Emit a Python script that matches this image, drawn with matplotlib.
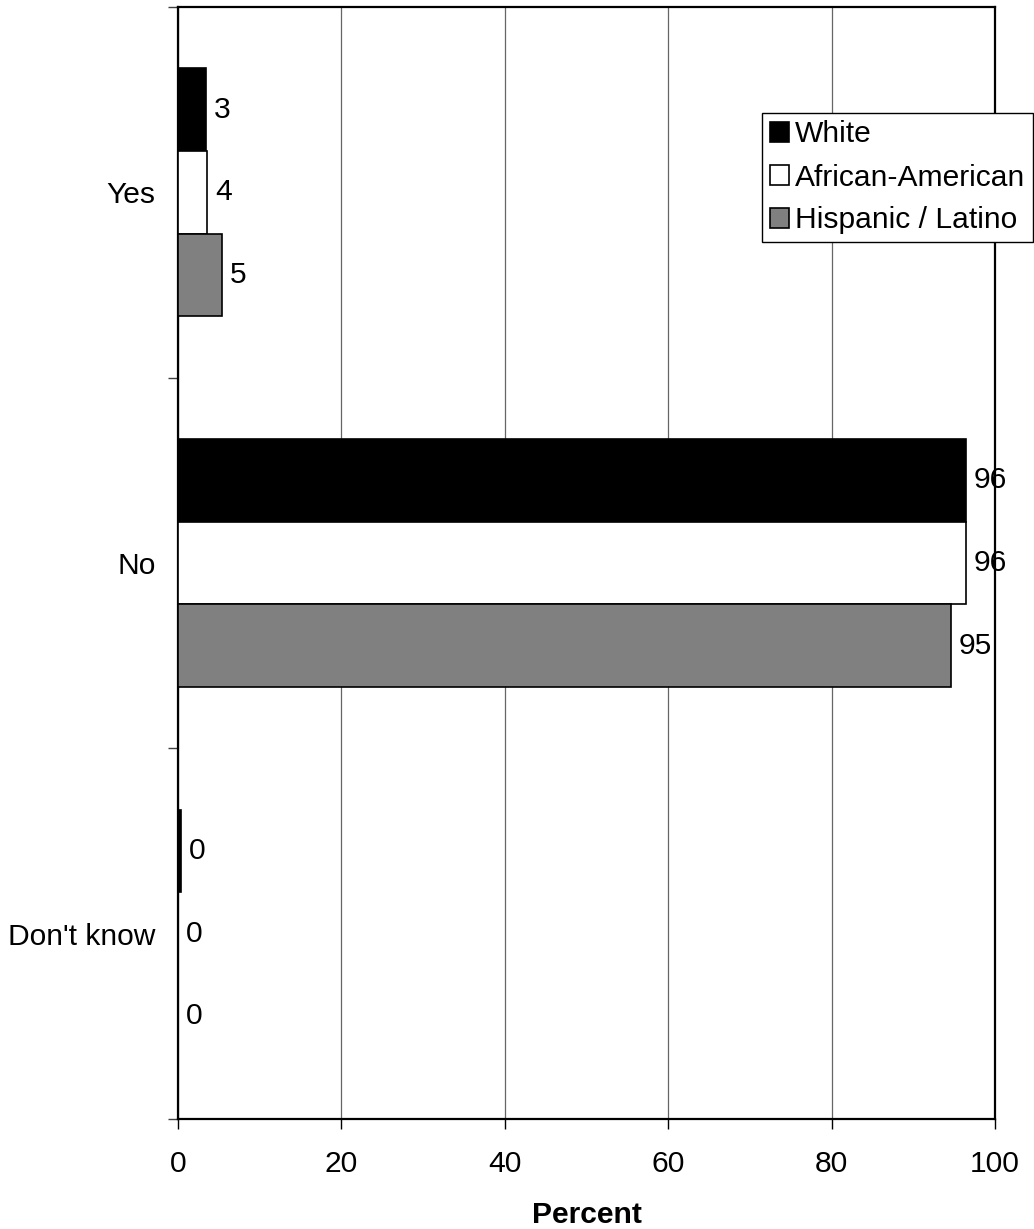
import numpy as np
import matplotlib
matplotlib.use("Agg")
import matplotlib.pyplot as plt

plt.rcParams['font.family'] = ['Liberation Sans', 'DejaVu Sans']

categories = ["Yes", "No", "Don't know"]
groups = ["White", "African-American", "Hispanic / Latino"]
white = [3.4, 96.4, 0.4]
african_american = [3.6, 96.4, 0.0]
hispanic = [5.4, 94.6, 0.0]
x_ticks = [0, 20, 40, 60, 80, 100]

series = [white, african_american, hispanic]
colors = ["#000000", "#ffffff", "#808080"]
fs = 21.6

W, H = 1034, 1229
fig = plt.figure(figsize=(W / 100, H / 100), dpi=100)
ax = fig.add_axes([178 / W, 1 - 1119 / H, (995 - 178) / W, (1119 - 7) / H])

y = np.arange(len(categories))
bar_h = 0.223
for i, (vals, name, col) in enumerate(zip(series, groups, colors)):
    pos = y + (i - 1) * bar_h
    bars = ax.barh(pos, vals, height=bar_h, color=col, edgecolor="black",
                   linewidth=1.2, label=name, zorder=3)
    for b, v in zip(bars, vals):
        ax.annotate(f"{v:.0f}", (b.get_width(), b.get_y() + b.get_height() / 2),
                    xytext=(8, 0), textcoords="offset pixels",
                    ha="left", va="center", fontsize=fs, zorder=5)

ax.set_xlim(0, 100)
ax.set_ylim(2.5, -0.5)
ax.set_xticks(x_ticks)
ax.set_yticks(y)
ax.set_yticklabels(categories)
ax.set_yticks([-0.5, 0.5, 1.5, 2.5], minor=True)
ax.tick_params(axis="y", which="major", length=0, pad=16, labelsize=fs)
ax.tick_params(axis="y", which="minor", length=7, width=1, color="#404040")
ax.tick_params(axis="x", which="major", length=7, width=1, pad=15, labelsize=fs,
               direction="out")
ax.xaxis.grid(True, color="#666666", linewidth=0.9, zorder=0)
ax.set_axisbelow(True)

for side in ["left", "bottom", "top", "right"]:
    ax.spines[side].set_linewidth(1.6)
    ax.spines[side].set_color("black")

ax.set_xlabel("Percent", fontsize=fs, fontweight="bold", labelpad=17)

leg = ax.legend(loc="upper right", bbox_to_anchor=(1033 / W, 1 - 113 / H),
                bbox_transform=fig.transFigure, borderaxespad=0,
                fontsize=fs, frameon=True, fancybox=False, shadow=False,
                framealpha=1, edgecolor="black", handlelength=0.65,
                handleheight=0.65, handletextpad=0.2, borderpad=0.25,
                labelspacing=0.5)
leg.get_frame().set_linewidth(1.0)

fig.savefig("out.png", dpi=100)
